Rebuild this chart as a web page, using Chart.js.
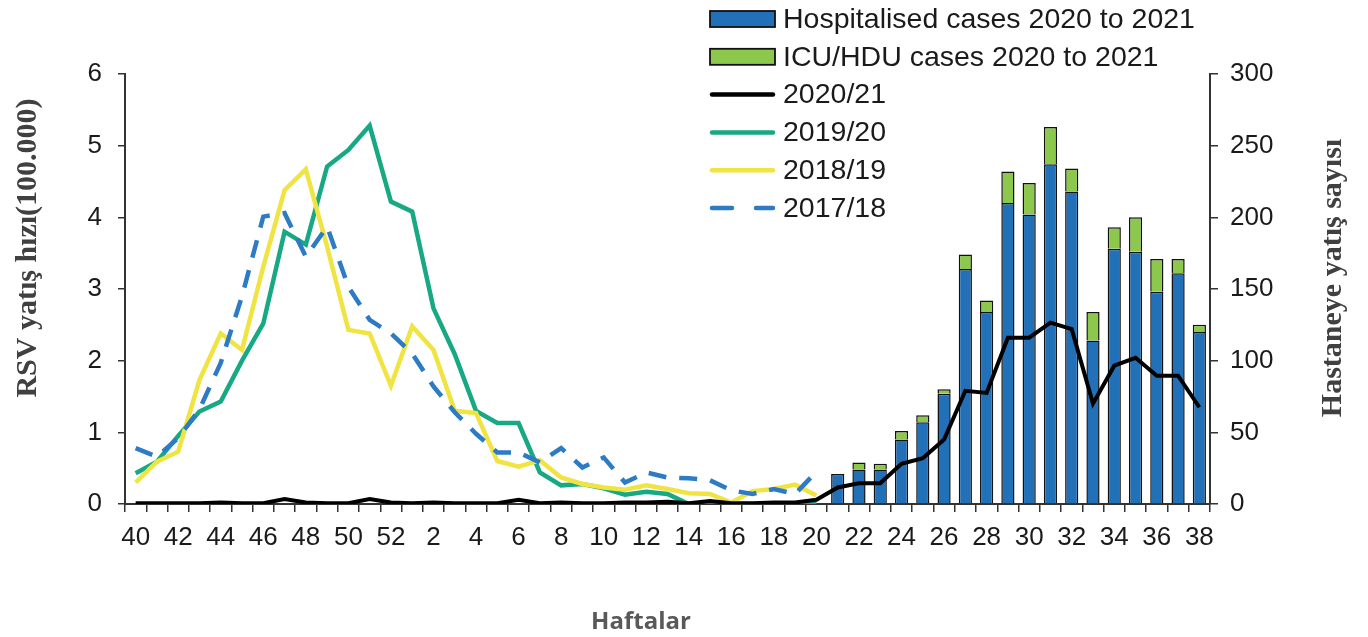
<!DOCTYPE html>
<html>
<head>
<meta charset="utf-8">
<script src="https://cdn.jsdelivr.net/npm/chart.js@4.4.1/dist/chart.umd.min.js"></script>
<style>
  html, body { margin: 0; padding: 0; background: #fff; }
  #wrap { width: 1368px; height: 637px; }
</style>
</head>
<body>
<div id="wrap"><canvas id="rsvChart" width="1368" height="637"></canvas></div>
<script>
// weeks 40..52 then 1..38
const weeks = [40, 41, 42, 43, 44, 45, 46, 47, 48, 49, 50, 51, 52,
  1, 2, 3, 4, 5, 6, 7, 8, 9, 10, 11, 12, 13, 14, 15, 16, 17, 18, 19, 20,
  21, 22, 23, 24, 25, 26, 27, 28, 29, 30, 31, 32, 33, 34, 35, 36, 37, 38];

// rates per 100.000 (left axis), weeks 40..20 for older seasons
const rate1920 = [0.43, 0.59, 0.95, 1.29, 1.43, 2.0, 2.52, 3.80, 3.62, 4.71, 4.94, 5.28, 4.22,
  4.08, 2.73, 2.09, 1.30, 1.13, 1.13, 0.44, 0.26, 0.28, 0.22, 0.13, 0.17, 0.14, 0, 0, 0, 0, 0, 0, 0];
const rate1819 = [0.30, 0.59, 0.73, 1.73, 2.38, 2.15, 3.31, 4.38, 4.67, 3.59, 2.43, 2.38, 1.65,
  2.48, 2.15, 1.30, 1.27, 0.60, 0.52, 0.61, 0.37, 0.28, 0.23, 0.20, 0.26, 0.21, 0.15, 0.14, 0.02, 0.18, 0.21, 0.27, 0.12];
const rate1718 = [0.78, 0.66, 0.92, 1.32, 1.97, 2.9, 4.01, 4.06, 3.45, 3.87, 3.03, 2.57, 2.38,
  2.10, 1.64, 1.28, 0.98, 0.72, 0.72, 0.58, 0.78, 0.51, 0.65, 0.30, 0.44, 0.37, 0.36, 0.33, 0.19, 0.14, 0.21, 0.14, 0.45];
const rate2021 = [0.01, 0.01, 0.01, 0.01, 0.02, 0.01, 0.01, 0.07, 0.02, 0.01, 0.01, 0.07, 0.02,
  0.01, 0.02, 0.01, 0.01, 0.01, 0.06, 0.01, 0.02, 0.01, 0.01, 0.02, 0.02, 0.03, 0.01, 0.04, 0.01, 0.01, 0.02, 0.02, 0.06,
  0.23, 0.29, 0.29, 0.56, 0.64, 0.90, 1.58, 1.55, 2.32, 2.32, 2.53, 2.44, 1.40, 1.93, 2.04, 1.79, 1.79, 1.35];

// case counts (right axis), weeks 21..38
const hospCases = [21, 24, 24, 45, 57, 77, 164, 134, 210, 202, 237, 218, 114, 178, 176, 148, 161, 120];
const icuCases = [0, 5, 4, 6, 5, 3, 10, 8, 22, 22, 26, 16, 20, 15, 24, 23, 10, 5];

const firstBarIdx = weeks.indexOf(21);
function padBars(arr) {
  const out = weeks.map(() => null);
  arr.forEach((v, i) => { out[firstBarIdx + i] = v; });
  return out;
}
function padSeason(arr) {
  return weeks.map((w, i) => (i < arr.length ? arr[i] : null));
}

const axisColor = "#333";
const tickFont = { family: "'Liberation Sans', Arial, sans-serif", size: 26 };

// custom legend, titles drawn on the canvas
const decorPlugin = {
  id: "decor",
  afterDraw(chart) {
    const ctx = chart.ctx;
    ctx.save();

    // axis titles
    ctx.fillStyle = "#404040";
    ctx.font = "bold 30px 'Liberation Serif', 'Times New Roman', serif";
    ctx.textAlign = "center";
    ctx.textBaseline = "middle";
    ctx.save();
    ctx.translate(28, 248);
    ctx.rotate(-Math.PI / 2);
    ctx.fillText("RSV yatış hızı(100.000)", 0, 0);
    ctx.restore();
    ctx.save();
    ctx.translate(1333, 278);
    ctx.rotate(-Math.PI / 2);
    ctx.fillText("Hastaneye yatış sayısı", 0, 0);
    ctx.restore();

    ctx.fillStyle = "#595959";
    ctx.font = "bold 24px 'Open Sans', sans-serif";
    ctx.fillText("Haftalar", 641, 622);

    // legend
    const x0 = 710, x1 = 775, top = 19, step = 37.8;
    ctx.textAlign = "left";
    ctx.font = "28.5px 'Liberation Sans', Arial, sans-serif";
    chart.data.datasets.forEach((ds, i) => {
      const y = top + i * step;
      if (ds.type === "bar") {
        ctx.fillStyle = ds.backgroundColor;
        ctx.fillRect(x0, y - 8, x1 - x0, 16);
        ctx.strokeStyle = "#111";
        ctx.lineWidth = 1.8;
        ctx.strokeRect(x0, y - 8, x1 - x0, 16);
      } else {
        ctx.strokeStyle = ds.borderColor;
        ctx.lineWidth = 4.5;
        ctx.lineCap = "round";
        ctx.setLineDash(ds.borderDash ? [20, 24] : []);
        ctx.beginPath();
        ctx.moveTo(x0 + 2, y);
        ctx.lineTo(x1 - 2, y);
        ctx.stroke();
        ctx.setLineDash([]);
      }
      ctx.fillStyle = "#1a1a1a";
      ctx.fillText(ds.label, 783, y + 1);
    });
    ctx.restore();
  },
};

const ctx = document.getElementById("rsvChart").getContext("2d");
new Chart(ctx, {
  data: {
    labels: weeks,
    datasets: [
      {
        type: "bar",
        label: "Hospitalised cases 2020 to 2021",
        data: padBars(hospCases),
        yAxisID: "y1",
        backgroundColor: "#2170b8",
        borderColor: "#111",
        borderWidth: 1.5,
        barPercentage: 0.62,
        categoryPercentage: 1,
        order: 9,
      },
      {
        type: "bar",
        label: "ICU/HDU cases 2020 to 2021",
        data: padBars(icuCases),
        yAxisID: "y1",
        backgroundColor: "#8cc84b",
        borderColor: "#111",
        borderWidth: 1.5,
        barPercentage: 0.62,
        categoryPercentage: 1,
        order: 10,
      },
      {
        type: "line",
        label: "2020/21",
        data: rate2021,
        yAxisID: "y",
        borderColor: "#000",
        borderWidth: 4,
        pointRadius: 0,
        order: 1,
      },
      {
        type: "line",
        label: "2019/20",
        data: padSeason(rate1920),
        yAxisID: "y",
        borderColor: "#17a884",
        borderWidth: 4.5,
        pointRadius: 0,
        order: 4,
      },
      {
        type: "line",
        label: "2018/19",
        data: padSeason(rate1819),
        yAxisID: "y",
        borderColor: "#f0e442",
        borderWidth: 4.5,
        pointRadius: 0,
        order: 3,
      },
      {
        type: "line",
        label: "2017/18",
        data: padSeason(rate1718),
        yAxisID: "y",
        borderColor: "#2c7bc4",
        borderWidth: 4.5,
        borderDash: [18, 13],
        pointRadius: 0,
        order: 2,
      },
    ],
  },
  options: {
    responsive: false,
    animation: false,
    layout: { padding: { top: 74, left: 0, right: 0, bottom: 0 } },
    plugins: { legend: { display: false }, tooltip: { enabled: false } },
    scales: {
      x: {
        stacked: true,
        offset: true,
        grid: {
          offset: true,
          drawOnChartArea: false,
          drawTicks: true,
          tickLength: 8,
          color: axisColor,
          lineWidth: 1.5,
        },
        border: { display: true, color: axisColor, width: 2 },
        ticks: {
          autoSkip: false,
          maxRotation: 0,
          padding: 10,
          color: "#1a1a1a",
          font: tickFont,
          callback: (val, i) => (i % 2 === 0 ? weeks[i] : ""),
        },
        afterFit: (scale) => { scale.height = 133; },
      },
      y: {
        position: "left",
        stacked: false,
        min: 0,
        max: 6,
        grid: {
          drawOnChartArea: false,
          drawTicks: true,
          tickLength: 7,
          color: axisColor,
          lineWidth: 1.5,
        },
        border: { display: true, color: axisColor, width: 2 },
        ticks: { stepSize: 1, padding: 16, color: "#1a1a1a", font: tickFont },
        afterFit: (scale) => { scale.width = 125; },
      },
      y1: {
        position: "right",
        stacked: true,
        min: 0,
        max: 300,
        grid: {
          drawOnChartArea: false,
          drawTicks: true,
          tickLength: 8,
          color: axisColor,
          lineWidth: 1.5,
        },
        border: { display: true, color: axisColor, width: 2 },
        ticks: { stepSize: 50, padding: 12, color: "#1a1a1a", font: tickFont },
        afterFit: (scale) => { scale.width = 158; },
      },
    },
  },
  plugins: [decorPlugin],
});
</script>
</body>
</html>
